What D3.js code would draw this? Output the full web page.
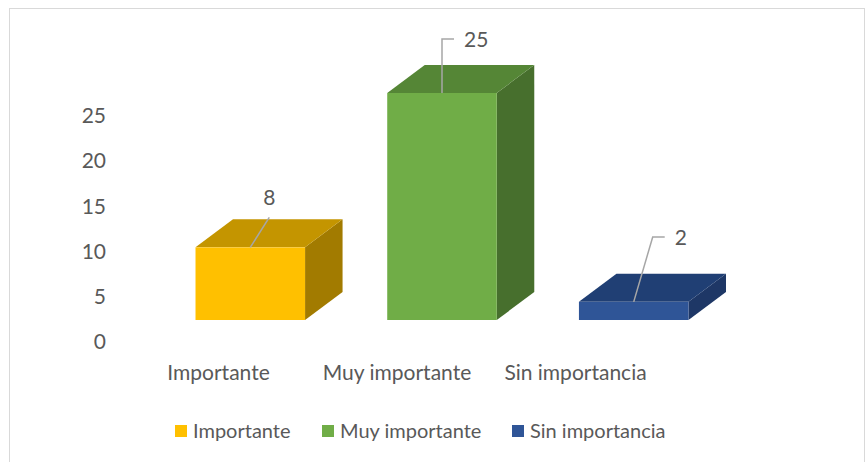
<!DOCTYPE html>
<html>
<head>
<meta charset="utf-8">
<script src="https://cdn.jsdelivr.net/npm/d3@7"></script>
<style>
  body { margin: 0; background: #fff; }
  text { font-family: Lato, 'Open Sans', sans-serif; fill: #595959; }
</style>
</head>
<body>
<div id="chart"></div>
<script>
// data
const categories = ['Importante', 'Muy importante', 'Sin importancia'];
const values = [8, 25, 2];
const frontColors = ['#ffc000', '#70ad47', '#2f5597'];
const topColors = ['#c49500', '#558636', '#203f74'];
const sideColors = ['#a27b00', '#476f2d', '#1e3766'];
const yTicks = [0, 5, 10, 15, 20, 25];

const W = 866, H = 462;
const depth = { dx: 37.5, dy: -28 };
const fontSize = '21px';

const svg = d3.select('#chart')
    .append('svg')
    .attr('width', W)
    .attr('height', H);

// chart frame
svg.append('rect')
    .attr('x', 9.5).attr('y', 8.5)
    .attr('width', 855).attr('height', 470)
    .attr('fill', 'none')
    .attr('stroke', '#d9d9d9');

// front face scales
const xScale = d3.scaleBand()
    .domain(categories)
    .range([138, 746])
    .paddingInner(0.75 / 1.75)
    .paddingOuter(0.3);

const yScale = d3.scaleLinear()
    .domain([0, 25])
    .range([320, 93]);

// axis labels sit on a different plane (perspective)
const yAxisScale = d3.scaleLinear()
    .domain([0, 25])
    .range([342, 116]);

const xLabelScale = d3.scalePoint()
    .domain(categories)
    .range([218, 575]);

const yAxis = d3.axisLeft(yAxisScale)
    .tickValues(yTicks)
    .tickSize(0)
    .tickPadding(0);

const yAxisG = svg.append('g')
    .attr('transform', 'translate(106,0)')
    .call(yAxis);
yAxisG.select('.domain').remove();
yAxisG.selectAll('text')
    .style('font-size', fontSize)
    .style('font-family', 'Lato, sans-serif')
    .attr('fill', '#595959');

const xAxis = d3.axisBottom(xLabelScale).tickSize(0).tickPadding(0);
const xAxisG = svg.append('g')
    .attr('transform', 'translate(0,373)')
    .call(xAxis);
xAxisG.select('.domain').remove();
xAxisG.selectAll('text')
    .attr('y', 0)
    .attr('dy', '0.35em')
    .style('font-size', fontSize)
    .style('font-family', 'Lato, sans-serif')
    .attr('fill', '#595959');

const data = categories.map((c, i) => ({
    cat: c, val: values[i],
    front: frontColors[i], top: topColors[i], side: sideColors[i]
}));

const bars = svg.append('g').selectAll('g')
    .data(data)
    .enter().append('g');

// right side
bars.append('path')
    .attr('fill', d => d.side)
    .attr('d', d => {
        const x1 = xScale(d.cat) + xScale.bandwidth();
        const y0 = yScale(0), y1 = yScale(d.val);
        return `M${x1},${y0}L${x1},${y1}L${x1 + depth.dx},${y1 + depth.dy}L${x1 + depth.dx},${y0 + depth.dy}Z`;
    });

// top
bars.append('path')
    .attr('fill', d => d.top)
    .attr('d', d => {
        const x0 = xScale(d.cat), x1 = x0 + xScale.bandwidth();
        const y1 = yScale(d.val);
        return `M${x0},${y1}L${x1},${y1}L${x1 + depth.dx},${y1 + depth.dy}L${x0 + depth.dx},${y1 + depth.dy}Z`;
    });

// front
bars.append('rect')
    .attr('fill', d => d.front)
    .attr('x', d => xScale(d.cat))
    .attr('y', d => yScale(d.val))
    .attr('width', xScale.bandwidth())
    .attr('height', d => yScale(0) - yScale(d.val));

// data labels with leader lines
const labelPos = [
    { dx: 19, ty: 198, bend: false },
    { dx: 0, ty: 40, bend: true },
    { dx: 19, ty: 238, bend: true }
];

bars.each(function (d, i) {
    const g = d3.select(this);
    const cx = xScale(d.cat) + xScale.bandwidth() / 2;
    const yTop = yScale(d.val);
    const p = labelPos[i];
    if (p.bend) {
        const yl = p.ty - 1;
        g.append('path')
            .attr('fill', 'none')
            .attr('stroke', '#a6a6a6')
            .attr('stroke-width', 1.5)
            .attr('d', `M${cx},${yTop}L${cx + p.dx},${yl}L${cx + p.dx + 12},${yl}`);
        g.append('text')
            .attr('x', cx + p.dx + 22)
            .attr('y', p.ty)
            .attr('dy', '0.35em')
            .style('font-size', fontSize)
            .text(d.val);
    } else {
        g.append('path')
            .attr('fill', 'none')
            .attr('stroke', '#a6a6a6')
            .attr('stroke-width', 1.5)
            .attr('d', `M${cx},${yTop}L${cx + p.dx},${yTop - 30}`);
        g.append('text')
            .attr('x', cx + p.dx)
            .attr('y', p.ty)
            .attr('dy', '0.35em')
            .attr('text-anchor', 'middle')
            .style('font-size', fontSize)
            .text(d.val);
    }
});

// legend
const legendX = [175, 322, 512];
const legend = svg.append('g').selectAll('g')
    .data(data)
    .enter().append('g')
    .attr('transform', (d, i) => `translate(${legendX[i]},425)`);

legend.append('rect')
    .attr('width', 12).attr('height', 12)
    .attr('fill', d => d.front);

legend.append('text')
    .attr('x', 18)
    .attr('y', 6)
    .attr('dy', '0.35em')
    .style('font-size', '20px')
    .text(d => d.cat);
</script>
</body>
</html>
